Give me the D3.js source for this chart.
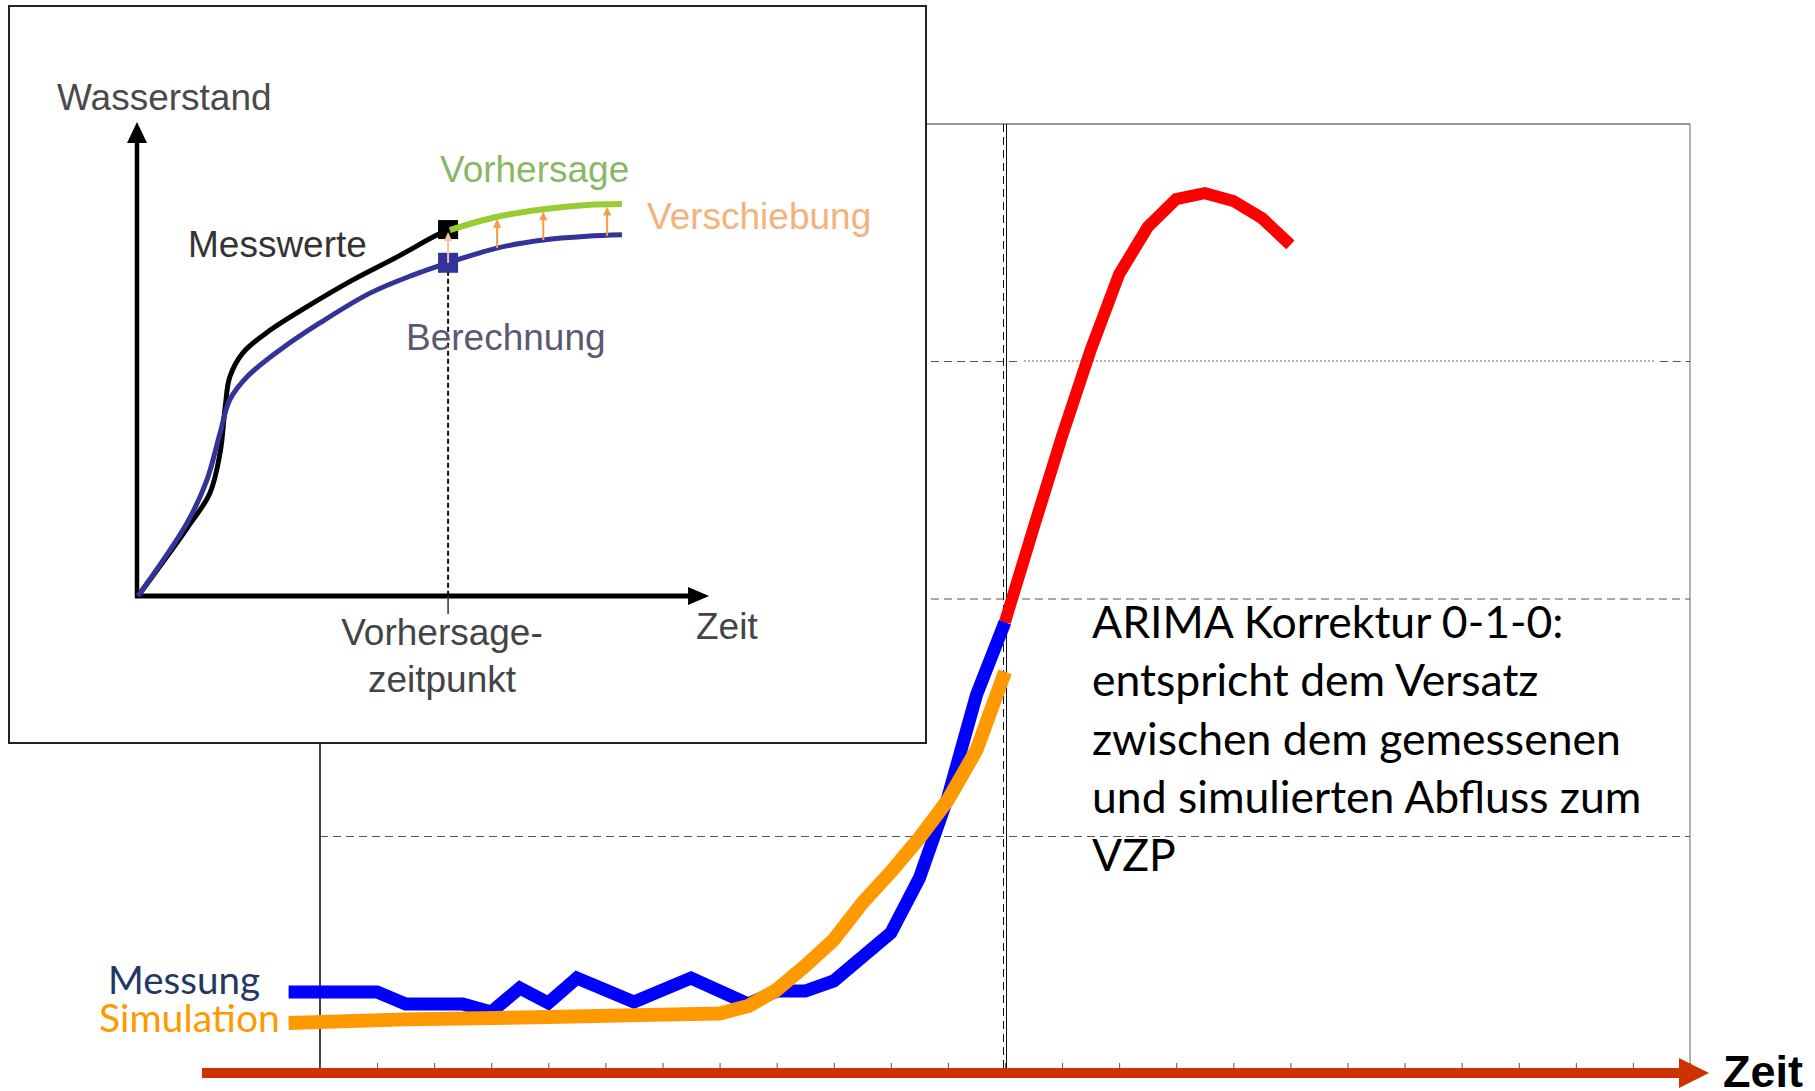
<!DOCTYPE html>
<html><head><meta charset="utf-8">
<script src="https://cdn.jsdelivr.net/npm/d3@7"></script>
<style>html,body{margin:0;padding:0;background:#fff;overflow:hidden}</style>
</head><body>
<svg id="c" width="1815" height="1091"></svg>
<script>
// ---------------- main chart data ----------------
const tickSteps = d3.range(0, 49, 2);
const messungT = [-1.1, 2, 3, 5, 6, 7, 8, 9, 11, 13, 15, 16, 17, 18, 20, 21, 22, 23, 24];
const messungV = [0.345, 0.345, 0.295, 0.295, 0.261, 0.362, 0.299, 0.404, 0.303, 0.404, 0.295, 0.349, 0.349, 0.392, 0.594, 0.825, 1.166, 1.596, 1.903];
const simT = [-1.1, 3, 8, 12, 14, 15, 16, 17, 18, 19, 20, 21, 22, 23, 24];
const simV = [0.215, 0.230, 0.240, 0.250, 0.255, 0.286, 0.354, 0.455, 0.565, 0.720, 0.851, 0.994, 1.154, 1.364, 1.693];
const fcT = [24, 25, 26, 27, 28, 29, 30, 31, 32, 33, 34];
const fcV = [1.903, 2.299, 2.686, 3.048, 3.368, 3.566, 3.684, 3.709, 3.676, 3.604, 3.491];
const gridV = [1, 2, 3];
const vzpT = 24;
const legendLabels = ["Messung", "Simulation"];
const noteLines = ["ARIMA Korrektur 0-1-0:", "entspricht dem Versatz", "zwischen dem gemessenen", "und simulierten Abfluss zum", "VZP"];
const axisLabel = "Zeit";

// ---------------- inset data ----------------
const messwerteX = [0, 8.6, 12.6, 14.4, 15.3, 16.1, 18.4, 23.2, 29.6, 37.7, 45.4, 52.5, 54.4];
const messwerteY = [0, 14.3, 21.7, 30.2, 39.9, 46.2, 51.3, 56.1, 61.0, 66.7, 71.5, 76.2, 77.2];
const berechnungX = [0, 8.6, 12.1, 14.4, 16.1, 19.1, 24.9, 31.9, 40.7, 48.2, 54.4, 63.0, 71.1, 78.8, 84.9];
const berechnungY = [0, 15.4, 24.5, 34.4, 41.4, 46.2, 51.9, 57.6, 63.9, 67.7, 70.3, 73.4, 75.1, 75.9, 76.2];
const vorhersageX = [54.7, 63.0, 71.1, 78.8, 84.9];
const vorhersageY = [77.2, 80.0, 81.6, 82.5, 82.7];
const shiftX = [54.4, 63.0, 71.1, 82.3];
const shiftFrom = [70.3, 73.4, 75.1, 76.0];
const shiftTo = [77.2, 80.0, 81.6, 82.6];
const insetVzpX = 54.4;

const svg = d3.select("#c");
const x = d3.scaleLinear().domain([0, 48]).range([320, 1690]);
const y = d3.scaleLinear().domain([0, 4]).range([1074, 124]);

const main = svg.append("g");
// gridlines
gridV.filter(v => v !== 3).forEach(v => {
  main.append("line").attr("x1", x(0)).attr("x2", x(48)).attr("y1", y(v)).attr("y2", y(v))
    .attr("stroke", "#555").attr("stroke-width", 1).attr("stroke-dasharray", "8,5");
});
{
  const v = 3;
  main.append("line").attr("x1", x(0)).attr("x2", x(vzpT) + 12).attr("y1", y(v)).attr("y2", y(v))
    .attr("stroke", "#555").attr("stroke-width", 1).attr("stroke-dasharray", "8,5");
  main.append("line").attr("x1", x(vzpT) + 19).attr("x2", x(46.8)).attr("y1", y(v) - 0.5).attr("y2", y(v) - 0.5)
    .attr("stroke", "#666").attr("stroke-width", 1).attr("stroke-dasharray", "2,2");
  main.append("line").attr("x1", x(46.8) + 4).attr("x2", x(48)).attr("y1", y(v)).attr("y2", y(v))
    .attr("stroke", "#555").attr("stroke-width", 1).attr("stroke-dasharray", "8,5");
}
// frame
main.append("line").attr("x1", x(0)).attr("x2", x(48)).attr("y1", y(4)).attr("y2", y(4)).attr("stroke", "#333").attr("stroke-width", 1.2);
main.append("line").attr("x1", x(48)).attr("x2", x(48)).attr("y1", y(4)).attr("y2", y(0) - 6).attr("stroke", "#666").attr("stroke-width", 1);
main.append("line").attr("x1", x(0)).attr("x2", x(0)).attr("y1", y(4)).attr("y2", y(0) - 6).attr("stroke", "#111").attr("stroke-width", 1.6);
// VZP vertical lines
main.append("line").attr("x1", x(vzpT) - 1.5).attr("x2", x(vzpT) - 1.5).attr("y1", y(4)).attr("y2", y(0) - 6)
  .attr("stroke", "#111").attr("stroke-width", 1).attr("stroke-dasharray", "8,5");
main.append("line").attr("x1", x(vzpT) + 1.5).attr("x2", x(vzpT) + 1.5).attr("y1", y(4)).attr("y2", y(0) - 6)
  .attr("stroke", "#111").attr("stroke-width", 1);

// ticks
const ax = d3.axisBottom(x).tickValues(tickSteps).tickSize(-5).tickFormat("");
const axg = main.append("g").attr("transform", `translate(0,${y(0) - 6})`).call(ax);
axg.select(".domain").remove();
axg.selectAll(".tick line").attr("stroke", "#555").attr("stroke-width", 1);

// series
const line = d3.line().x(d => x(d[0])).y(d => y(d[1]));
main.append("path").datum(d3.zip(messungT, messungV)).attr("d", line)
  .attr("fill", "none").attr("stroke", "#0000FF").attr("stroke-width", 13).attr("stroke-linejoin", "miter").attr("stroke-linecap", "butt");
main.append("path").datum(d3.zip(simT, simV)).attr("d", line)
  .attr("fill", "none").attr("stroke", "#FF9900").attr("stroke-width", 14).attr("stroke-linejoin", "round").attr("stroke-linecap", "butt");
main.append("path").datum(d3.zip(fcT, fcV)).attr("d", line)
  .attr("fill", "none").attr("stroke", "#FF0000").attr("stroke-width", 12).attr("stroke-linejoin", "miter").attr("stroke-linecap", "butt");

// red time axis
const axY = 1073;
main.append("line").attr("x1", 202).attr("x2", 1684).attr("y1", axY).attr("y2", axY).attr("stroke", "#CC3300").attr("stroke-width", 10);
main.append("path").attr("d", `M1679,${axY - 15}L1709,${axY}L1679,${axY + 15}Z`).attr("fill", "#CC3300");
main.append("text").attr("x", 1723).attr("y", 1087).text(axisLabel)
  .attr("font-family", "Liberation Sans, Arial, sans-serif").attr("font-weight", "bold").attr("font-size", 45).attr("fill", "#000");

// legend texts
const calFont = "Lato, 'Open Sans', sans-serif";
function fitSize(sel, target, base) {
  const w = sel.node().getComputedTextLength();
  return base * target / w;
}
const mText = main.append("text").attr("x", 108).attr("y", 994).text(legendLabels[0])
  .attr("font-family", calFont).attr("font-size", 40).attr("fill", "#1F3864");
mText.attr("font-size", fitSize(mText, 152, 40));
const sText = main.append("text").attr("x", 99).attr("y", 1032).text(legendLabels[1])
  .attr("font-family", calFont).attr("font-size", 40).attr("fill", "#FF9900");
sText.attr("font-size", fitSize(sText, 181, 40));

// note
const noteG = main.append("g");
const noteTexts = noteLines.map((t, i) => noteG.append("text").attr("x", 1092).attr("y", 638 + i * 58.3).text(t)
  .attr("font-family", calFont).attr("font-size", 46).attr("fill", "#000"));
const ns = fitSize(noteTexts[2], 529, 46);
noteTexts.forEach(t => t.attr("font-size", ns));

// ---------------- inset ----------------
const ins = svg.append("g");
ins.append("rect").attr("x", 9).attr("y", 6).attr("width", 917).attr("height", 737)
  .attr("fill", "#fff").attr("stroke", "#222").attr("stroke-width", 2);
const ix = d3.scaleLinear().domain([0, 100]).range([138, 708]);
const iy = d3.scaleLinear().domain([0, 100]).range([596, 122]);
const arial = "Liberation Sans, Arial, sans-serif";

// axes
ins.append("line").attr("x1", ix(0) - 1).attr("x2", ix(0) - 1).attr("y1", iy(0) + 2).attr("y2", iy(96)).attr("stroke", "#000").attr("stroke-width", 4.5);
ins.append("path").attr("d", `M${ix(0) - 1},${iy(100)}L${ix(0) - 11},${iy(96) + 2}L${ix(0) + 9},${iy(96) + 2}Z`).attr("fill", "#000");
ins.append("line").attr("x1", ix(0) - 3).attr("x2", ix(97)).attr("y1", iy(0)).attr("y2", iy(0)).attr("stroke", "#000").attr("stroke-width", 5);
ins.append("path").attr("d", `M${ix(96.5)},${iy(0) - 9}L${ix(100.2)},${iy(0)}L${ix(96.5)},${iy(0) + 9}Z`).attr("fill", "#000");

// VZP dashed + tick
ins.append("line").attr("x1", ix(insetVzpX)).attr("x2", ix(insetVzpX)).attr("y1", iy(70.3)).attr("y2", iy(0))
  .attr("stroke", "#111").attr("stroke-width", 2).attr("stroke-dasharray", "5,3");
ins.append("line").attr("x1", ix(insetVzpX)).attr("x2", ix(insetVzpX)).attr("y1", iy(0)).attr("y2", iy(0) + 18)
  .attr("stroke", "#333").attr("stroke-width", 1.5);

const iline = d3.line().x(d => ix(d[0])).y(d => iy(d[1])).curve(d3.curveCatmullRom.alpha(0.5));
ins.append("path").datum(d3.zip(messwerteX, messwerteY)).attr("d", iline).attr("fill", "none").attr("stroke", "#000").attr("stroke-width", 5);
ins.append("path").datum(d3.zip(berechnungX, berechnungY)).attr("d", iline).attr("fill", "none").attr("stroke", "#333399").attr("stroke-width", 5);

// squares
ins.append("rect").attr("x", ix(insetVzpX) - 10).attr("y", iy(77.2) - 10).attr("width", 20).attr("height", 19).attr("fill", "#000");
ins.append("rect").attr("x", ix(insetVzpX) - 10).attr("y", iy(70.3) - 10).attr("width", 20).attr("height", 20).attr("fill", "#333399");

ins.append("path").datum(d3.zip(vorhersageX, vorhersageY)).attr("d", iline).attr("fill", "none").attr("stroke", "#99CC33").attr("stroke-width", 6);

// shift arrows
shiftX.forEach((sx, i) => {
  const xx = ix(sx), y0 = iy(shiftFrom[i]), y1 = iy(shiftTo[i]);
  const col = i === 0 ? "#F4C4A0" : "#F0A040";
  ins.append("line").attr("x1", xx).attr("x2", xx).attr("y1", y0).attr("y2", y1 + 7).attr("stroke", col).attr("stroke-width", 2);
  ins.append("path").attr("d", `M${xx},${y1 + 2}L${xx - 4},${y1 + 11}L${xx + 4},${y1 + 11}Z`).attr("fill", col);
});

// inset texts
const itexts = [
  ["Wasserstand", 57, 110, "#4a4a4a", "start"],
  ["Messwerte", 188, 257, "#333", "start"],
  ["Vorhersage", 440, 182, "#88B865", "start"],
  ["Verschiebung", 647, 229, "#F3B27C", "start"],
  ["Berechnung", 406, 350, "#5C5872", "start"],
  ["Vorhersage-", 442, 645, "#444", "middle"],
  ["zeitpunkt", 442, 692, "#444", "middle"],
  ["Zeit", 696, 639, "#444", "start"]
];
itexts.forEach(([t, tx, ty, c, a]) => {
  ins.append("text").attr("x", tx).attr("y", ty).text(t).attr("text-anchor", a)
    .attr("font-family", arial).attr("font-size", 37).attr("fill", c);
});
</script>
</body></html>
